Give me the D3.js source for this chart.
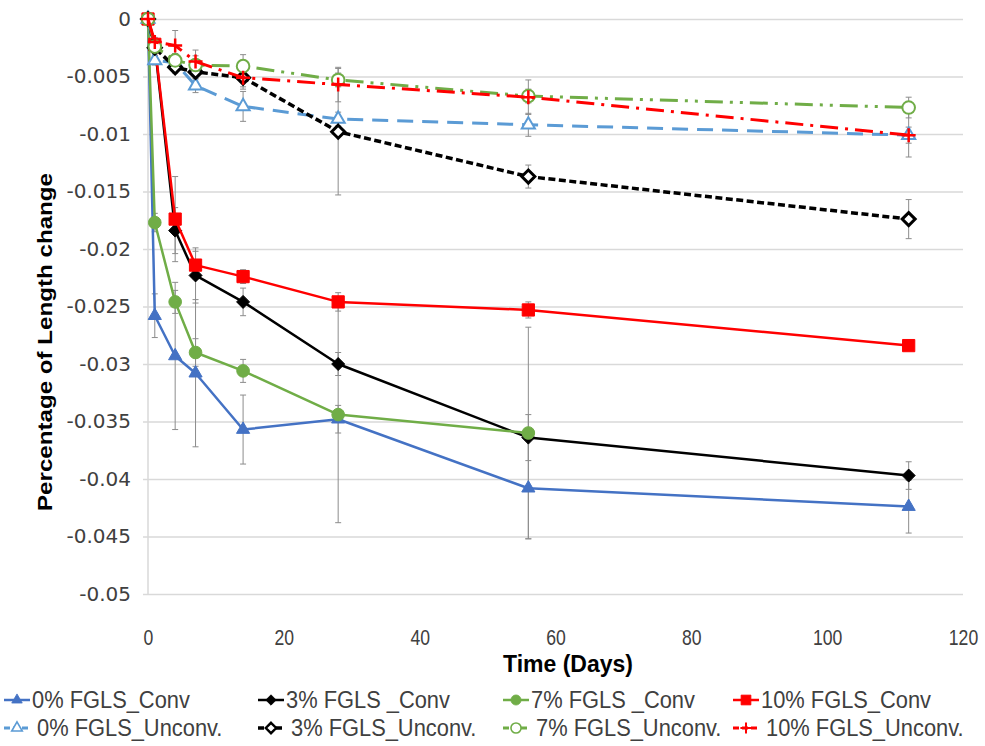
<!DOCTYPE html>
<html>
<head>
<meta charset="utf-8">
<script src="https://cdn.jsdelivr.net/npm/d3@7"></script>
<style>
  html, body { margin: 0; padding: 0; background: #ffffff; }
  svg { display: block; }
</style>
</head>
<body>
<svg id="chart" width="985" height="746"></svg>
<script>
// Sampling days
const days = [0, 1, 4, 7, 14, 28, 56, 112];

// Mean length change per mix (null = not measured)
const conv0    = [0, -0.0258, -0.0293, -0.0308, -0.0357, -0.0348, -0.0408, -0.0424];
const conv3    = [0, -0.0023, -0.0184, -0.0223, -0.0246, -0.0300, -0.0364, -0.0397];
const conv7    = [0, -0.0177, -0.0246, -0.0290, -0.0306, -0.0344, -0.0360, null];
const conv10   = [0, -0.0022, -0.0174, -0.0214, -0.0224, -0.0246, -0.0253, -0.0284];
const unconv0  = [0, -0.0036, -0.0038, -0.0058, -0.0076, -0.0087, -0.0092, -0.0101];
const unconv3  = [0, -0.0025, -0.0042, -0.0046, -0.0051, -0.0098, -0.0137, -0.0174];
const unconv7  = [0, -0.0024, -0.0036, -0.0040, -0.0041, -0.0053, -0.0067, -0.0077];
const unconv10 = [0, -0.0020, -0.0023, -0.0037, -0.0051, -0.0057, -0.0068, -0.0101];

// Standard deviations (symmetric error bars)
const errConv0    = [0, 0.0019, 0.0064, 0.0064, 0.0030, 0.0012, 0.0044, 0.0023];
const errConv3    = [0, 0.0005, 0.0020, 0.0024, 0.0012, 0.0010, 0.0020, 0.0012];
const errConv7    = [0, 0.0008, 0.0010, 0.0012, 0.0010, 0.0094, 0.0092, null];
const errConv10   = [0, 0.0004, 0.0037, 0.0012, 0.0006, 0.0008, 0.0007, 0.0004];
const errUnconv0  = [0, 0.0004, 0.0005, 0.0006, 0.0013, 0.0006, 0.0010, 0.0019];
const errUnconv3  = [0, 0.0004, 0.0005, 0.0006, 0.0008, 0.0055, 0.0010, 0.0017];
const errUnconv7  = [0, 0.0004, 0.0006, 0.0008, 0.0010, 0.0006, 0.0006, 0.0009];
const errUnconv10 = [0, 0.0004, 0.0013, 0.0010, 0.0010, 0.0015, 0.0015, 0.0007];

const seriesNames = ["0% FGLS_Conv", "3% FGLS _Conv", "7% FGLS _Conv", "10% FGLS_Conv",
                     "0% FGLS_Unconv.", "3% FGLS_Unconv.", "7% FGLS_Unconv.", "10% FGLS_Unconv."];

const yTicks = [0, -0.005, -0.01, -0.015, -0.02, -0.025, -0.03, -0.035, -0.04, -0.045, -0.05];
const xTicks = [0, 20, 40, 60, 80, 100, 120];

// Visual style for each series, in the same order as seriesNames
const looks = [
  { color: "#4472C4", width: 2.5, dash: null,                 marker: "triangle", fill: true },
  { color: "#000000", width: 2.5, dash: null,                 marker: "diamond",  fill: true },
  { color: "#70AD47", width: 2.5, dash: null,                 marker: "circle",   fill: true },
  { color: "#FF0000", width: 2.5, dash: null,                 marker: "square",   fill: true },
  { color: "#5B9BD5", width: 3,   dash: "16,9",               marker: "triangle", fill: false },
  { color: "#000000", width: 3.5, dash: "7,3.5",              marker: "diamond",  fill: false },
  { color: "#70AD47", width: 3,   dash: "18,7,3,7,3,7",       marker: "circle",   fill: false },
  { color: "#FF0000", width: 3,   dash: "18,7,3,7",           marker: "plus",     fill: false }
];

const means = [conv0, conv3, conv7, conv10, unconv0, unconv3, unconv7, unconv10];
const errs  = [errConv0, errConv3, errConv7, errConv10, errUnconv0, errUnconv3, errUnconv7, errUnconv10];

const series = seriesNames.map((name, i) => ({
  name,
  look: looks[i],
  points: days.map((d, j) => ({ day: d, v: means[i][j], e: errs[i][j] }))
}));

const plot = { left: 148, right: 963, top: 19, bottom: 594 };

const x = d3.scaleLinear().domain([0, 120]).range([plot.left, plot.right]);
const y = d3.scaleLinear().domain([-0.05, 0]).range([plot.bottom, plot.top]);

const svg = d3.select("#chart");
svg.append("rect").attr("width", 985).attr("height", 746).attr("fill", "#ffffff");

// Narrow a text element horizontally by factor k
function squeeze(sel, k) {
  sel.each(function () {
    const w = this.getComputedTextLength();
    d3.select(this).attr("textLength", w * k).attr("lengthAdjust", "spacingAndGlyphs");
  });
}

// Horizontal gridlines and y tick labels
const yAxis = d3.axisLeft(y)
  .tickValues(yTicks)
  .tickSize(-(plot.right - plot.left + 5))
  .tickPadding(12)
  .tickFormat(d => d === 0 ? "0" : String(+d.toFixed(3)));

const gy = svg.append("g")
  .attr("transform", `translate(${plot.left - 5},0)`)
  .call(yAxis);
gy.select(".domain").remove();
gy.selectAll(".tick line").attr("stroke", "#d9d9d9").attr("stroke-width", 1.5);
gy.selectAll(".tick text")
  .attr("fill", "#404040")
  .style("font-family", "'DejaVu Sans', Verdana, sans-serif")
  .style("font-size", "20px");

// Vertical axis line
svg.append("line")
  .attr("x1", plot.left).attr("x2", plot.left)
  .attr("y1", plot.top).attr("y2", plot.bottom)
  .attr("stroke", "#d9d9d9").attr("stroke-width", 1.5);

// x tick labels
const xAxis = d3.axisBottom(x).tickValues(xTicks).tickSize(0).tickPadding(35).tickFormat(d3.format("d"));
const gx = svg.append("g").attr("transform", `translate(0,${plot.bottom})`).call(xAxis);
gx.select(".domain").remove();
gx.selectAll(".tick text")
  .attr("fill", "#404040")
  .style("font-family", "'Liberation Sans', Arial, sans-serif")
  .style("font-size", "22px");
squeeze(gx.selectAll(".tick text"), 0.8);

// Axis titles
svg.append("text")
  .attr("transform", `translate(45,342) rotate(-90)`)
  .attr("text-anchor", "middle")
  .attr("dominant-baseline", "central")
  .attr("fill", "#000")
  .style("font-family", "'Liberation Sans', Arial, sans-serif")
  .style("font-weight", "bold")
  .style("font-size", "20px")
  .attr("textLength", 338)
  .attr("lengthAdjust", "spacingAndGlyphs")
  .text("Percentage of Length change");

svg.append("text")
  .attr("x", 568)
  .attr("y", 672)
  .attr("text-anchor", "middle")
  .attr("fill", "#000")
  .style("font-family", "'Liberation Sans', Arial, sans-serif")
  .style("font-weight", "bold")
  .style("font-size", "23px")
  .text("Time (Days)");

// Marker drawing
function markerPath(kind) {
  switch (kind) {
    case "triangle": return d3.symbol(d3.symbolTriangle, 75)();
    case "square":   return d3.symbol(d3.symbolSquare, 150)();
    case "circle":   return d3.symbol(d3.symbolCircle, 125)();
    case "diamond":  return "M0,-6.5L6.5,0L0,6.5L-6.5,0Z";
    case "plus":     return "M-7,0H7M0,-7V7";
  }
}
function drawMarker(g, look, cx, cy, scale = 1) {
  const p = g.append("path")
    .attr("d", markerPath(look.marker))
    .attr("transform", `translate(${cx},${cy}) scale(${scale})`);
  if (look.marker === "plus") {
    p.attr("fill", "none").attr("stroke", look.color).attr("stroke-width", 2.5);
  } else if (look.fill) {
    p.attr("fill", look.color).attr("stroke", look.color).attr("stroke-width", 1);
  } else {
    p.attr("fill", "#ffffff").attr("stroke", look.color)
     .attr("stroke-width", look.marker === "diamond" ? 3 : 2);
  }
}

// Error bars
const gErr = svg.append("g");
series.forEach(s => {
  s.points.filter(p => p.v != null && p.e).forEach(p => {
    const cx = x(p.day), y1 = y(p.v - p.e), y2 = y(p.v + p.e);
    gErr.append("line").attr("x1", cx).attr("x2", cx).attr("y1", y1).attr("y2", y2)
      .attr("stroke", "#8c8c8c").attr("stroke-width", 1);
    [y1, y2].forEach(yy => gErr.append("line")
      .attr("x1", cx - 3).attr("x2", cx + 3).attr("y1", yy).attr("y2", yy)
      .attr("stroke", "#8c8c8c").attr("stroke-width", 1));
  });
});

// Lines and markers
const line = d3.line().defined(p => p.v != null).x(p => x(p.day)).y(p => y(p.v));
const gLines = svg.append("g");
series.forEach(s => {
  const g = gLines.append("g");
  g.append("path")
    .attr("d", line(s.points))
    .attr("fill", "none")
    .attr("stroke", s.look.color)
    .attr("stroke-width", s.look.width)
    .attr("stroke-dasharray", s.look.dash)
    .attr("stroke-linejoin", "round");
  s.points.filter(p => p.v != null).forEach(p => drawMarker(g, s.look, x(p.day), y(p.v)));
});

// Legend: two rows of four entries
const legendX = [4, 258, 503, 733];
const legendY = [700, 728];
const gLeg = svg.append("g");
series.forEach((s, i) => {
  const col = i % 4, row = Math.floor(i / 4);
  const lx = legendX[col], ly = legendY[row];
  gLeg.append("line")
    .attr("x1", lx).attr("x2", lx + 26).attr("y1", ly).attr("y2", ly)
    .attr("stroke", s.look.color).attr("stroke-width", s.look.width)
    .attr("stroke-dasharray", s.look.dash ? "6,3" : null);
  drawMarker(gLeg, s.look, lx + 13, ly, 0.8);
  gLeg.append("text")
    .attr("x", lx + 28 + row * 5)
    .attr("y", ly)
    .attr("dominant-baseline", "central")
    .attr("fill", "#404040")
    .style("font-family", "'Liberation Sans', Arial, sans-serif")
    .style("font-size", "23px")
    .text(s.name)
    .call(t => squeeze(t, 0.95));
});
</script>
</body>
</html>
